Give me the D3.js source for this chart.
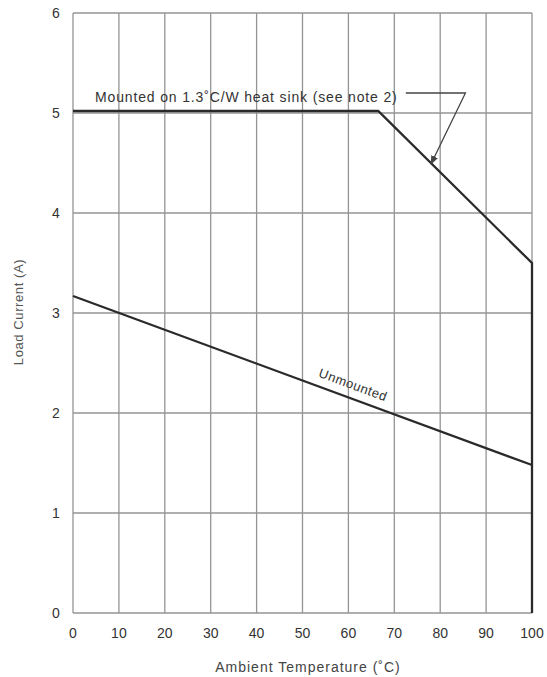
<!DOCTYPE html>
<html>
<head>
<meta charset="utf-8">
<script src="https://cdn.jsdelivr.net/npm/d3@7"></script>
<style>
  body { margin: 0; background: #fff; }
  text { font-family: "Liberation Sans", Arial, sans-serif; }
</style>
</head>
<body>
<svg></svg>
<script>
// data
var xTicks = [0, 10, 20, 30, 40, 50, 60, 70, 80, 90, 100];
var yTicks = [0, 1, 2, 3, 4, 5, 6];
var mountedT = [0, 66.5, 100, 100];
var mountedI = [5.02, 5.02, 3.5, 0];
var unmountedT = [0, 100];
var unmountedI = [3.17, 1.48];
// annotation: label end, apex, arrow tip (data units)
var noteT = [72.5, 85.5, 78];
var noteI = [5.2, 5.2, 4.49];

var width = 547, height = 677;
var svg = d3.select("svg").attr("width", width).attr("height", height);

var x = d3.scaleLinear().domain([0, 100]).range([73, 532]);
var y = d3.scaleLinear().domain([0, 6]).range([613, 13]);

// grid
svg.append("g").selectAll("line").data(xTicks).enter().append("line")
    .attr("x1", d => x(d)).attr("x2", d => x(d))
    .attr("y1", y(0)).attr("y2", y(6))
    .attr("stroke", "#949494").attr("stroke-width", 1.3);
svg.append("g").selectAll("line").data(yTicks).enter().append("line")
    .attr("x1", x(0)).attr("x2", x(100))
    .attr("y1", d => y(d)).attr("y2", d => y(d))
    .attr("stroke", "#949494").attr("stroke-width", 1.3);

// tick labels
svg.append("g").selectAll("text").data(yTicks).enter().append("text")
    .attr("x", 56).attr("y", d => y(d) + 5)
    .attr("text-anchor", "middle").attr("font-size", "14px").attr("fill", "#333")
    .text(d => d);
svg.append("g").selectAll("text").data(xTicks).enter().append("text")
    .attr("x", d => x(d)).attr("y", 638)
    .attr("text-anchor", "middle").attr("font-size", "14px").attr("fill", "#333")
    .text(d => d);

// axis titles
svg.append("text")
    .attr("transform", "translate(23,312) rotate(-90)")
    .attr("text-anchor", "middle").attr("font-size", "13px").attr("fill", "#555")
    .attr("letter-spacing", "0.6px")
    .text("Load Current (A)");
svg.append("text")
    .attr("x", 308).attr("y", 672)
    .attr("text-anchor", "middle").attr("font-size", "14px").attr("fill", "#444")
    .attr("letter-spacing", "1px")
    .text("Ambient Temperature (˚C)");

var line = d3.line().x(d => x(d[0])).y(d => y(d[1]));

// curves
svg.append("path")
    .attr("d", line(d3.zip(mountedT, mountedI)))
    .attr("fill", "none").attr("stroke", "#2a2a2a").attr("stroke-width", 2.3);
svg.append("path")
    .attr("d", line(d3.zip(unmountedT, unmountedI)))
    .attr("fill", "none").attr("stroke", "#2a2a2a").attr("stroke-width", 2.3);

// labels
svg.append("text")
    .attr("x", 95).attr("y", 102)
    .attr("font-size", "14px").attr("fill", "#333")
    .attr("letter-spacing", "0.85px")
    .text("Mounted on 1.3˚C/W heat sink (see note 2)");

var defs = svg.append("defs");
defs.append("marker")
    .attr("id", "arrow").attr("viewBox", "0 0 10 10")
    .attr("refX", 9).attr("refY", 5)
    .attr("markerWidth", 7).attr("markerHeight", 7)
    .attr("orient", "auto")
    .append("path").attr("d", "M0,1L10,5L0,9Z").attr("fill", "#444");

svg.append("path")
    .attr("d", line(d3.zip(noteT, noteI)))
    .attr("fill", "none").attr("stroke", "#444").attr("stroke-width", 1.3)
    .attr("marker-end", "url(#arrow)");

var ang = Math.atan2(y(unmountedI[1]) - y(unmountedI[0]), x(100) - x(0)) * 180 / Math.PI;
var labT = 60;
var labI = unmountedI[0] + (unmountedI[1] - unmountedI[0]) * labT / 100;
svg.append("text")
    .attr("transform", "translate(" + x(labT) + "," + y(labI) + ") rotate(" + ang + ")")
    .attr("y", -9)
    .attr("text-anchor", "middle").attr("font-size", "13px").attr("fill", "#333")
    .attr("letter-spacing", "0.5px")
    .text("Unmounted");
</script>
</body>
</html>
